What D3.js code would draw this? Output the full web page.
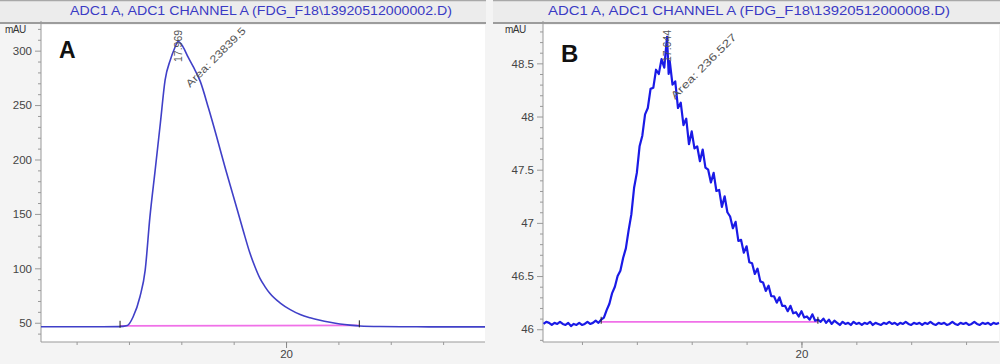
<!DOCTYPE html>
<html>
<head>
<meta charset="utf-8">
<script src="https://cdn.jsdelivr.net/npm/d3@7/dist/d3.min.js"></script>
<style>
  html, body { margin: 0; padding: 0; background: #f4f4f4; }
  svg { display: block; font-family: Arial, "Liberation Sans", sans-serif; }
</style>
</head>
<body>
<svg id="chart" width="1000" height="364"></svg>
<script>
// ---------- data ----------
const titleA = "ADC1 A, ADC1 CHANNEL A (FDG_F18\\13920512000002.D)";
const titleB = "ADC1 A, ADC1 CHANNEL A (FDG_F18\\13920512000008.D)";
const unitLabel = "mAU";
const panelLetters = ["A", "B"];
const peakLabelA = "17.969";
const peakLabelB = "17.644";
const areaLabelA = "Area: 23839.5";
const areaLabelB = "Area: 236.527";

// Chromatogram A (retention time in min, signal in mAU)
const aTimes = [15.32, 16.00, 16.50, 16.80, 16.97, 17.08, 17.21, 17.31, 17.40, 17.50, 17.60, 17.69, 17.79, 17.87, 17.94,
  18.03, 18.13, 18.23, 18.36, 18.52, 18.68, 18.84, 18.99, 19.18, 19.31, 19.41, 19.50, 19.60, 19.69, 19.89,
  20.08, 20.27, 20.46, 20.65, 20.84, 21.03, 21.22, 21.41, 21.79, 22.50, 23.00, 23.80];
const aValues = [46.3, 46.3, 46.3, 46.4, 47.5, 55.5, 73.9, 98.4, 147, 190, 233.5, 273, 291.5, 302, 308.3,
  303.7, 294, 285, 272, 247, 220, 192, 167, 135, 114, 101, 91, 83, 77, 68,
  62, 57.5, 54.5, 52.2, 50.4, 48.9, 47.8, 47.0, 46.5, 46.3, 46.2, 46.2];

// Chromatogram B (retention time in min, signal in mAU)
const bTimes = [15.30, 15.35, 15.40, 15.45, 15.50, 15.55, 15.60, 15.65, 15.70, 15.75, 15.80, 15.85, 15.90, 15.95,
  16.00, 16.05, 16.10, 16.15, 16.20, 16.25, 16.30, 16.35, 16.40, 16.45, 16.50, 16.55, 16.60, 16.65, 16.70, 16.75,
  16.80, 16.85, 16.90, 16.95, 17.00, 17.05, 17.10, 17.15, 17.20, 17.25, 17.30, 17.35, 17.40, 17.45, 17.50, 17.55,
  17.58, 17.60, 17.65, 17.70, 17.75, 17.80, 17.85, 17.90, 17.95, 18.00, 18.05, 18.10, 18.15, 18.20, 18.25, 18.30,
  18.35, 18.40, 18.45, 18.50, 18.55, 18.60, 18.65, 18.70, 18.75, 18.80, 18.85, 18.90, 18.95, 19.00, 19.05, 19.10,
  19.15, 19.20, 19.25, 19.30, 19.35, 19.40, 19.45, 19.50, 19.55, 19.60, 19.65, 19.70, 19.75, 19.80, 19.85, 19.90,
  19.95, 20.00, 20.05, 20.10, 20.15, 20.20, 20.25, 20.30, 20.35, 20.40, 20.45, 20.50, 20.55, 20.60, 20.65, 20.70,
  20.75, 20.80, 20.85, 20.90, 20.95, 21.00, 21.05, 21.10, 21.15, 21.20, 21.25, 21.30, 21.35, 21.40, 21.45, 21.50,
  21.55, 21.60, 21.65, 21.70, 21.75, 21.80, 21.85, 21.90, 21.95, 22.00, 22.05, 22.10, 22.15, 22.20, 22.25, 22.30,
  22.35, 22.40, 22.45, 22.50, 22.55, 22.60, 22.65, 22.70, 22.75, 22.80, 22.85, 22.90, 22.95, 23.00, 23.05, 23.10,
  23.15, 23.20, 23.25, 23.30, 23.35, 23.40, 23.45, 23.50, 23.55, 23.60];
const bValues = [46.05, 46.07, 46.06, 46.04, 46.06, 46.05, 46.07, 46.05, 46.04, 46.06, 46.03, 46.05, 46.04, 46.06,
  46.04, 46.05, 46.07, 46.05, 46.06, 46.08, 46.06, 46.09, 46.11, 46.18, 46.24, 46.34, 46.40, 46.50, 46.55, 46.67,
  46.76, 46.93, 47.08, 47.33, 47.47, 47.72, 47.82, 48.02, 48.08, 48.26, 48.27, 48.44, 48.40, 48.54, 48.46, 48.75,
  48.40, 48.52, 48.30, 48.33, 48.08, 48.13, 47.92, 47.98, 47.74, 47.86, 47.70, 47.72, 47.58, 47.69, 47.52, 47.50,
  47.38, 47.47, 47.30, 47.31, 47.15, 47.25, 47.10, 47.06, 46.95, 47.01, 46.83, 46.84, 46.72, 46.78, 46.63, 46.62,
  46.52, 46.57, 46.45, 46.44, 46.36, 46.41, 46.31, 46.31, 46.25, 46.30, 46.22, 46.22, 46.17, 46.22, 46.15, 46.16,
  46.12, 46.17, 46.11, 46.12, 46.09, 46.14, 46.08, 46.09, 46.07, 46.10, 46.06, 46.09, 46.05, 46.08, 46.06, 46.04,
  46.07, 46.05, 46.06, 46.04, 46.07, 46.05, 46.06, 46.04, 46.06, 46.05, 46.07, 46.04, 46.06, 46.05, 46.04, 46.06,
  46.05, 46.07, 46.05, 46.06, 46.04, 46.06, 46.05, 46.07, 46.05, 46.04, 46.06, 46.05, 46.06, 46.04, 46.06, 46.05,
  46.07, 46.05, 46.04, 46.06, 46.05, 46.06, 46.04, 46.05, 46.07, 46.05, 46.04, 46.06, 46.05, 46.06, 46.04, 46.05,
  46.07, 46.05, 46.04, 46.06, 46.05, 46.06, 46.04, 46.06, 46.05, 46.06];

// integration baselines [start time, start value, end time, end value]
const aBaseline = [16.83, 47.2, 21.40, 47.6];
const bBaseline = [16.35, 46.07, 20.30, 46.07];

// axis ticks
const aYMajor = [50, 100, 150, 200, 250, 300];
const bYMajor = [46, 46.5, 47, 47.5, 48, 48.5];
const xMajor = [20];
const xMinor = [16, 17, 18, 19, 20, 21, 22, 23];

// ---------- drawing ----------
const svg = d3.select("#chart");

function drawPanel(cfg) {
  const g = svg.append("g");
  // title bar
  g.append("rect").attr("x", cfg.frameX0).attr("y", 0).attr("width", cfg.frameX1 - cfg.frameX0).attr("height", 23)
    .attr("fill", "#ececec");
  g.append("line").attr("x1", cfg.frameX0).attr("x2", cfg.frameX1).attr("y1", 0.5).attr("y2", 0.5)
    .attr("stroke", "#a8a8a8").attr("stroke-width", 1.5);
  g.append("line").attr("x1", cfg.frameX0).attr("x2", cfg.frameX1).attr("y1", 23).attr("y2", 23)
    .attr("stroke", "#9c9c9c").attr("stroke-width", 2);
  g.append("text").attr("x", cfg.titleX).attr("y", 15).attr("text-anchor", "middle")
    .attr("font-size", 12.5).attr("fill", "#3a3ac4").attr("textLength", cfg.titleLen)
    .attr("lengthAdjust", "spacingAndGlyphs").text(cfg.title);

  // plot area
  g.append("rect").attr("x", cfg.left).attr("y", 25).attr("width", cfg.right - cfg.left).attr("height", cfg.bottom - 25)
    .attr("fill", "#ffffff");

  const x = d3.scaleLinear().domain(cfg.xDomain).range([cfg.left, cfg.right]);
  const y = d3.scaleLinear().domain(cfg.yDomain).range([cfg.bottom, cfg.top]);

  // y axis: minor ticks
  const yMinorAxis = d3.axisLeft(y).tickValues(cfg.yMinor).tickSize(3).tickFormat("");
  const gym = g.append("g").attr("transform", `translate(${cfg.left},0)`).call(yMinorAxis);
  gym.select(".domain").remove();
  gym.selectAll("line").attr("stroke", "#999");
  const yAxis = d3.axisLeft(y).tickValues(cfg.yMajor).tickSize(6).tickPadding(3)
    .tickFormat(cfg.yFormat);
  const gy = g.append("g").attr("transform", `translate(${cfg.left},0)`).call(yAxis);
  gy.select(".domain").attr("stroke", "#999").attr("d", `M0,${cfg.bottom}V${cfg.top - 3}`);
  gy.selectAll("line").attr("stroke", "#999");
  gy.selectAll("text").attr("font-size", 11.5).attr("fill", "#444").attr("font-family", "Arial, sans-serif");

  // x axis
  const xMinorAxis = d3.axisBottom(x).tickValues(xMinor).tickSize(3).tickFormat("");
  const gxm = g.append("g").attr("transform", `translate(0,${cfg.bottom})`).call(xMinorAxis);
  gxm.select(".domain").attr("stroke", "#999").attr("d", `M${cfg.left},0H${cfg.right}`);
  gxm.selectAll("line").attr("stroke", "#999");
  const xAxis = d3.axisBottom(x).tickValues(xMajor).tickSize(6).tickPadding(2).tickFormat(d3.format("d"));
  const gx = g.append("g").attr("transform", `translate(0,${cfg.bottom})`).call(xAxis);
  gx.select(".domain").remove();
  gx.selectAll("line").attr("stroke", "#888");
  gx.selectAll("text").attr("font-size", 11.5).attr("fill", "#444").attr("font-family", "Arial, sans-serif");

  // unit label
  g.append("text").attr("x", cfg.unitX).attr("y", 33).attr("font-size", 10).attr("fill", "#333")
    .attr("letter-spacing", -0.5).text(unitLabel);

  // panel letter
  g.append("text").attr("x", cfg.letterX).attr("y", cfg.letterY).attr("font-size", cfg.letterSize)
    .attr("font-weight", "bold").attr("fill", "#111").text(cfg.letter);

  const pts = cfg.times.map((t, i) => [t, cfg.values[i]]);

  // integration baseline (pink)
  g.append("line")
    .attr("x1", x(cfg.baseline[0])).attr("y1", y(cfg.baseline[1]))
    .attr("x2", x(cfg.baseline[2])).attr("y2", y(cfg.baseline[3]))
    .attr("stroke", "#f070e8").attr("stroke-width", 1.8);

  // signal trace
  const line = d3.line().x(d => x(d[0])).y(d => y(d[1])).curve(cfg.curve);
  g.append("path").datum(pts).attr("d", line).attr("fill", "none")
    .attr("stroke", cfg.color).attr("stroke-width", cfg.width).attr("stroke-linejoin", "round");

  // start / end markers
  [cfg.baseline[0], cfg.baseline[2]].forEach((t, i) => {
    const v = i === 0 ? cfg.baseline[1] : cfg.baseline[3];
    g.append("line").attr("x1", x(t)).attr("x2", x(t)).attr("y1", y(v) + 2).attr("y2", y(v) - 5)
      .attr("stroke", "#222").attr("stroke-width", 1);
  });

  // peak retention-time label (rotated)
  const peakIdx = d3.maxIndex(cfg.values);
  const px = x(cfg.times[peakIdx]);
  g.append("text").attr("transform", `translate(${px + 4},${cfg.peakLabelBottom}) rotate(-90)`)
    .attr("font-size", 10.5).attr("fill", "#555").text(cfg.peakLabel);

  // area label (diagonal)
  g.append("text").attr("transform", `translate(${cfg.areaX},${cfg.areaY}) rotate(-45)`)
    .attr("font-size", 10.5).attr("fill", "#555").attr("textLength", cfg.areaLen)
    .attr("lengthAdjust", "spacingAndGlyphs").text(cfg.areaLabel);
}

drawPanel({
  frameX0: 0, frameX1: 486, title: titleA, titleX: 261, titleLen: 382,
  left: 41, right: 485, top: 24, bottom: 342,
  xDomain: [15.32, 23.80], yDomain: [32.3, 324.5],
  yMajor: aYMajor, yMinor: d3.range(40, 321, 10).filter(v => v % 50 !== 0), yFormat: d3.format("d"),
  unitX: 5, letter: panelLetters[0], letterX: 59, letterY: 58, letterSize: 23,
  times: aTimes, values: aValues, baseline: aBaseline,
  curve: d3.curveMonotoneX, color: "#4040c8", width: 1.6,
  peakLabel: peakLabelA, peakLabelBottom: 62,
  areaLabel: areaLabelA, areaX: 190, areaY: 88, areaLen: 80
});

drawPanel({
  frameX0: 493, frameX1: 1000, title: titleB, titleX: 749, titleLen: 402,
  left: 543, right: 999, top: 24, bottom: 342,
  xDomain: [15.29, 23.60], yDomain: [45.88, 48.87],
  yMajor: bYMajor, yMinor: d3.range(45.9, 48.85, 0.1).map(v => +v.toFixed(1)).filter(v => Math.abs(v * 2 - Math.round(v * 2)) > 0.01),
  yFormat: d => String(d),
  unitX: 505, letter: panelLetters[1], letterX: 561, letterY: 62, letterSize: 24,
  times: bTimes, values: bValues, baseline: bBaseline,
  curve: d3.curveLinear, color: "#1a1ae6", width: 2.2,
  peakLabel: peakLabelB, peakLabelBottom: 62,
  areaLabel: areaLabelB, areaX: 675, areaY: 100, areaLen: 88
});
</script>
</body>
</html>
